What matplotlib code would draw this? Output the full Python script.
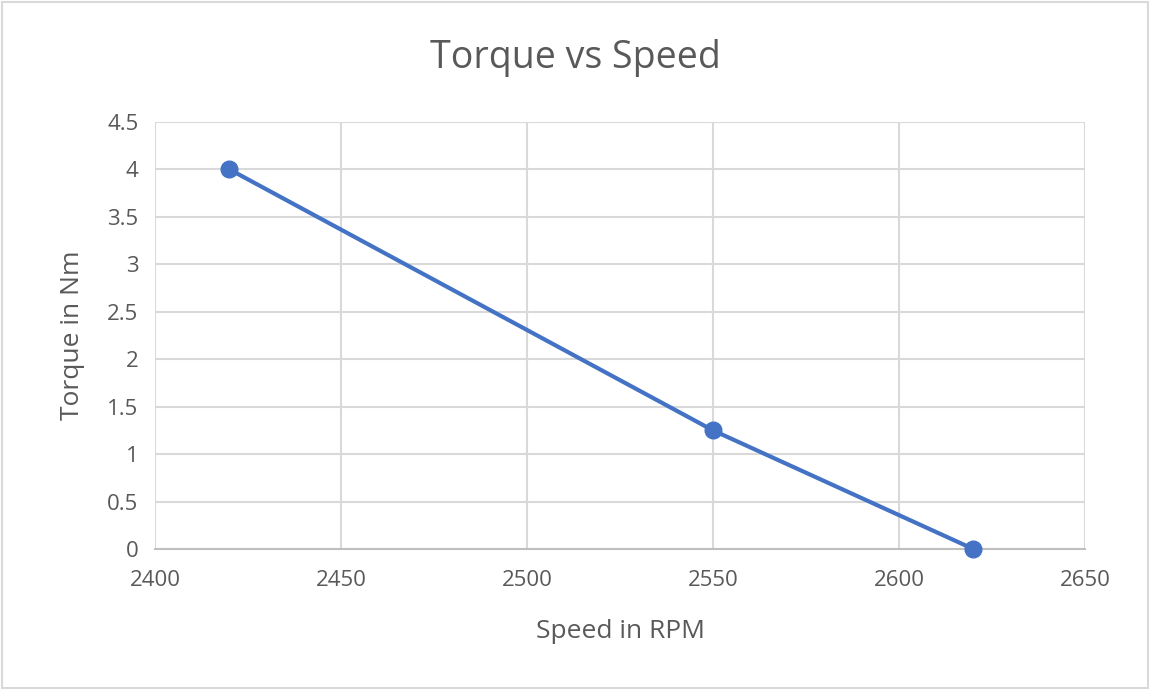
import matplotlib.pyplot as plt
from matplotlib.patches import Rectangle

# data
speed = [2420, 2550, 2620]
torque = [4, 1.25, 0]
xticks = [2400, 2450, 2500, 2550, 2600, 2650]
yticks = [0, 0.5, 1, 1.5, 2, 2.5, 3, 3.5, 4, 4.5]
ytick_labels = ["0", "0.5", "1", "1.5", "2", "2.5", "3", "3.5", "4", "4.5"]

plt.rcParams['font.family'] = ['Open Sans', 'DejaVu Sans']
text_col = '#595959'
grid_col = '#d9d9d9'

fig = plt.figure(figsize=(11.5, 6.9), dpi=100)
ax = fig.add_axes([0.1348, 0.2043, 0.8087, 0.619])

ax.plot(speed, torque, color='#4472C4', lw=3, marker='o', ms=12, zorder=3, clip_on=False)

ax.set_xlim(2400, 2650)
ax.set_ylim(0, 4.5)
ax.set_xticks(xticks)
ax.set_xticklabels([str(x) for x in xticks])
ax.set_yticks(yticks)
ax.set_yticklabels(ytick_labels)
ax.grid(True, color=grid_col, lw=1.5)
ax.set_axisbelow(True)
for s in ['top', 'right', 'left']:
    ax.spines[s].set_visible(False)
ax.spines['bottom'].set_color('#bfbfbf')
ax.spines['bottom'].set_linewidth(1.5)
ax.tick_params(length=0, labelsize=16, colors=text_col)
ax.tick_params(axis='y', pad=12)
ax.tick_params(axis='x', pad=15)

ax.set_xlabel("Speed in RPM", fontsize=19, color=text_col, labelpad=20)
ax.set_ylabel("Torque in Nm", fontsize=19, color=text_col, labelpad=16)
fig.text(0.5, 0.916, "Torque vs Speed", ha='center', va='center', fontsize=27, color=text_col)

fig.patches.append(Rectangle((0.002, 0.003), 0.996, 0.994, transform=fig.transFigure,
                             fill=False, edgecolor='#d9d9d9', lw=1.5))

fig.savefig("out.png", dpi=100)
